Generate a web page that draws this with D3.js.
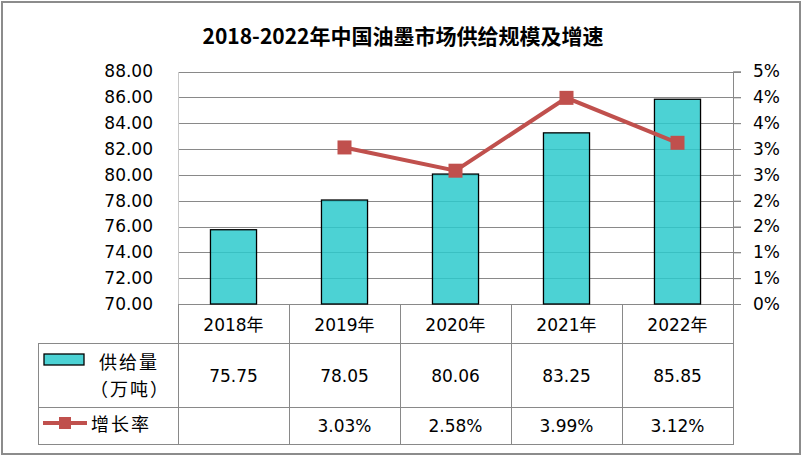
<!DOCTYPE html>
<html>
<head>
<meta charset="utf-8">
<script src="https://cdn.jsdelivr.net/npm/d3@7/dist/d3.min.js"></script>
<style>
  html, body { margin: 0; padding: 0; background: #fff; }
  svg { display: block; }
</style>
</head>
<body>
<svg id="chart" width="804" height="458"></svg>
<script>
// ---- data ----
const titleText = "2018-2022年中国油墨市场供给规模及增速";
const categories = ["2018年", "2019年", "2020年", "2021年", "2022年"];
const supplyValues = [75.75, 78.05, 80.06, 83.25, 85.85];
const growthValues = [null, 3.03, 2.58, 3.99, 3.12];
const leftTicks = [70, 72, 74, 76, 78, 80, 82, 84, 86, 88];
const rightTicks = [0, 0.5, 1, 1.5, 2, 2.5, 3, 3.5, 4, 4.5];
const rightTickLabels = ["0%", "1%", "1%", "2%", "2%", "3%", "3%", "4%", "4%", "5%"];
const seriesNames = ["供给量", "（万吨）", "增长率"];

// ---- layout ----
const svg = d3.select("#chart");
const plot = { left: 178, right: 733, top: 71.5, bottom: 304 };
const table = { left: 38, row1: 343, row2: 407, bottom: 444 };
const latin = "'DejaVu Sans', 'Noto Sans CJK SC', sans-serif";
const cjk = "'Noto Sans CJK SC', 'DejaVu Sans', sans-serif";
const gray = "#898989";
const barColor = "#2DCACC";
const lineColor = "#C0504D";

// outer border
svg.append("rect").attr("x", 2).attr("y", 2).attr("width", 798).attr("height", 452)
  .attr("fill", "#fff").attr("stroke", "#8c8c8c").attr("stroke-width", 2);

// title
svg.append("text").attr("x", 403).attr("y", 35)
  .attr("text-anchor", "middle").attr("dominant-baseline", "central")
  .style("font-family", cjk).style("font-weight", "bold").style("font-size", "21px")
  .attr("fill", "#000").text(titleText);

// scales
const x = d3.scaleBand().domain(categories).range([plot.left, plot.right])
  .paddingInner(0.585).paddingOuter(0.2925);
const xCell = d3.scaleBand().domain(categories).range([plot.left, plot.right]);
const yL = d3.scaleLinear().domain([70, 88]).range([plot.bottom, plot.top]);
const yR = d3.scaleLinear().domain([0, 4.5]).range([plot.bottom, plot.top]);

// gridlines
svg.append("g").selectAll("line").data(leftTicks).join("line")
  .attr("x1", plot.left).attr("x2", plot.right + 8)
  .attr("y1", d => Math.round(yL(d)) + 0.5).attr("y2", d => Math.round(yL(d)) + 0.5)
  .attr("stroke", gray).attr("stroke-width", 1);

// bars
svg.append("g").selectAll("rect").data(supplyValues).join("rect")
  .attr("x", (d, i) => x(categories[i]))
  .attr("y", d => yL(d))
  .attr("width", x.bandwidth())
  .attr("height", d => yL(70) - yL(d))
  .attr("fill", barColor).attr("fill-opacity", 0.85)
  .attr("stroke", "#000").attr("stroke-width", 1.3);

// left axis
const gL = svg.append("g").attr("transform", `translate(${plot.left},0)`)
  .call(d3.axisLeft(yL).tickValues(leftTicks).tickSize(0).tickPadding(25).tickFormat(d3.format(".2f")));
gL.select(".domain").attr("stroke", "#c8c8c8");
gL.selectAll("text").style("font-family", latin).style("font-size", "17px").attr("fill", "#000");

// right axis
const gR = svg.append("g").attr("transform", `translate(${plot.right},0)`)
  .call(d3.axisRight(yR).tickValues(rightTicks).tickSize(8).tickPadding(12)
    .tickFormat((d, i) => rightTickLabels[i]));
gR.select(".domain").attr("stroke", gray);
gR.selectAll(".tick line").attr("stroke", gray);
gR.selectAll("text").style("font-family", latin).style("font-size", "17px").attr("fill", "#000");

// growth line
const linePts = growthValues.map((v, i) => ({ v, c: categories[i] })).filter(d => d.v !== null);
const cx = c => x(c) + x.bandwidth() / 2;
svg.append("path").datum(linePts)
  .attr("d", d3.line().x(d => cx(d.c)).y(d => yR(d.v)))
  .attr("fill", "none").attr("stroke", lineColor).attr("stroke-width", 4);
svg.append("g").selectAll("rect").data(linePts).join("rect")
  .attr("x", d => cx(d.c) - 7).attr("y", d => yR(d.v) - 7)
  .attr("width", 14).attr("height", 14).attr("fill", lineColor);

// data table lines
const tg = svg.append("g").attr("stroke", gray).attr("stroke-width", 1).attr("fill", "none");
[table.row1, table.row2, table.bottom].forEach(yv => {
  tg.append("line").attr("x1", table.left).attr("x2", plot.right)
    .attr("y1", yv + 0.5).attr("y2", yv + 0.5);
});
tg.append("line").attr("x1", table.left + 0.5).attr("x2", table.left + 0.5)
  .attr("y1", table.row1).attr("y2", table.bottom + 1);
categories.forEach(c => {
  tg.append("line").attr("x1", Math.round(xCell(c)) + 0.5).attr("x2", Math.round(xCell(c)) + 0.5)
    .attr("y1", plot.bottom).attr("y2", table.bottom + 1);
});
tg.append("line").attr("x1", plot.right + 0.5).attr("x2", plot.right + 0.5)
  .attr("y1", plot.bottom).attr("y2", table.bottom + 1);

// table texts
const cellX = c => xCell(c) + xCell.bandwidth() / 2;
const txt = svg.append("g").style("font-family", latin).style("font-size", "17px").attr("fill", "#000")
  .attr("text-anchor", "middle").attr("dominant-baseline", "central");
txt.selectAll(".hdr").data(categories).join("text").attr("class", "hdr")
  .attr("x", d => cellX(d)).attr("y", 325).text(d => d);
txt.selectAll(".sv").data(supplyValues).join("text").attr("class", "sv")
  .attr("x", (d, i) => cellX(categories[i])).attr("y", 376).text(d => d3.format(".2f")(d));
txt.selectAll(".gv").data(growthValues).join("text").attr("class", "gv")
  .attr("x", (d, i) => cellX(categories[i])).attr("y", 426)
  .text(d => d === null ? "" : d3.format(".2f")(d) + "%");

// legend keys
svg.append("rect").attr("x", 44).attr("y", 354).attr("width", 40).attr("height", 11)
  .attr("fill", barColor).attr("fill-opacity", 0.85).attr("stroke", "#000").attr("stroke-width", 1.3);
svg.append("line").attr("x1", 43).attr("x2", 87).attr("y1", 423).attr("y2", 423)
  .attr("stroke", lineColor).attr("stroke-width", 4);
svg.append("rect").attr("x", 59).attr("y", 417).attr("width", 12).attr("height", 12).attr("fill", lineColor);

const lg = svg.append("g").style("font-family", cjk).style("font-size", "18px").attr("fill", "#000")
  .style("letter-spacing", "2px").attr("dominant-baseline", "central");
lg.append("text").attr("x", 99).attr("y", 361).text(seriesNames[0]);
lg.append("text").attr("x", 90).attr("y", 388).text(seriesNames[1]);
lg.append("text").attr("x", 91).attr("y", 423).text(seriesNames[2]);
</script>
</body>
</html>
